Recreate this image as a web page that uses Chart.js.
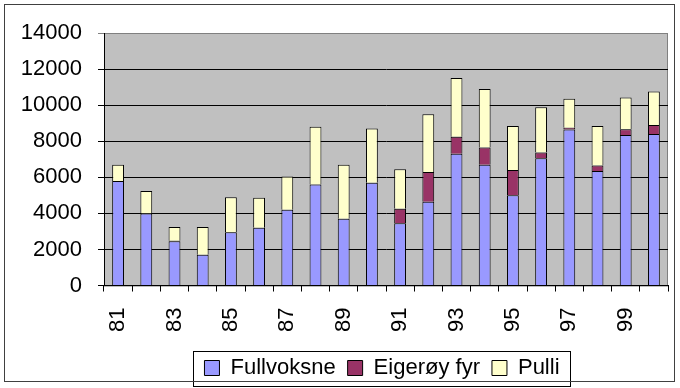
<!DOCTYPE html>
<html lang="no">
<head>
  <meta charset="UTF-8">
  <title>Fullvoksne, Eigerøy fyr, Pulli</title>
  <script src="https://cdn.jsdelivr.net/npm/chart.js"></script>
  <style>
    html, body { margin: 0; padding: 0; background: #fff; }
    canvas { display: block; }
  </style>
</head>
<body>
  <canvas id="chart" width="680" height="388"></canvas>

  <script>
    // data
    const years = ['81', '82', '83', '84', '85', '86', '87', '88', '89', '90',
                   '91', '92', '93', '94', '95', '96', '97', '98', '99', '00'];
    const fullvoksne = [5800, 4000, 2450, 1700, 2950, 3200, 4200, 5600, 3700, 5700,
                        3450, 4650, 7300, 6700, 5000, 7050, 8650, 6350, 8350, 8400];
    const eigeroy = [0, 0, 30, 0, 0, 0, 0, 0, 0, 0,
                     800, 1650, 950, 950, 1400, 330, 100, 300, 320, 500];
    const pulli = [900, 1240, 760, 1540, 1950, 1670, 1850, 3200, 3000, 3000,
                   2200, 3200, 3250, 3250, 2450, 2500, 1600, 2200, 1750, 1850];
    const yTicks = [0, 2000, 4000, 6000, 8000, 10000, 12000, 14000];

    const font = { family: 'Arial, "Liberation Sans", sans-serif', size: 22 };

    // gray plot area + frame around the whole picture + box round the legend
    const frame = {
      id: 'frame',
      beforeDraw(chart) {
        const { ctx, chartArea: a } = chart;
        ctx.save();
        ctx.fillStyle = '#c0c0c0';
        ctx.fillRect(a.left, a.top, a.right - a.left, a.bottom - a.top);
        ctx.strokeStyle = '#808080';
        ctx.lineWidth = 1;
        ctx.strokeRect(a.left + 0.5, a.top + 0.5, a.right - a.left - 1, a.bottom - a.top);
        ctx.restore();
      },
      afterLayout(chart) {
        const lg = chart.legend, a = chart.chartArea;
        lg.left = a.left - 4;
        lg.right = a.right - 4;
        lg.width = a.right - a.left;
        lg.top = 345;
        lg.bottom = lg.top + lg.height;
      },
      afterDraw(chart) {
        const ctx = chart.ctx;
        const boxes = chart.legend.legendHitBoxes;
        ctx.save();
        ctx.strokeStyle = '#000';
        ctx.lineWidth = 1;
        if (boxes && boxes.length) {
          const l = Math.min(...boxes.map(b => b.left));
          const r = Math.max(...boxes.map(b => b.left + b.width));
          const t = Math.min(...boxes.map(b => b.top));
          const b2 = Math.max(...boxes.map(b => b.top + b.height));
          const cy = (t + b2) / 2;
          ctx.strokeRect(Math.round(l - 11) + 0.5, Math.round(cy - 17) + 0.5, Math.round(r - l + 22), 35);
        }
        ctx.strokeStyle = '#404040';
        ctx.strokeRect(4.5, 4.5, 670, 377);
        ctx.restore();
      }
    };

    new Chart(document.getElementById('chart'), {
      type: 'bar',
      data: {
        labels: years,
        datasets: [
          { label: 'Fullvoksne', data: fullvoksne, backgroundColor: '#9999ff' },
          { label: 'Eigerøy fyr', data: eigeroy, backgroundColor: '#993366' },
          { label: 'Pulli', data: pulli, backgroundColor: '#ffffcc' }
        ].map(d => Object.assign(d, {
          borderColor: '#000', borderWidth: 1,
          barPercentage: 0.42, categoryPercentage: 1
        }))
      },
      options: {
        responsive: false,
        animation: false,
        layout: { padding: { left: 0, right: 12, top: 33, bottom: 0 } },
        plugins: {
          tooltip: { enabled: false },
          legend: {
            position: 'bottom',
            labels: { font: font, color: '#000', boxWidth: 15, boxHeight: 15, padding: 12 }
          }
        },
        scales: {
          x: {
            stacked: true,
            afterFit: s => { s.paddingLeft = 0; s.paddingRight = 0; s.height -= 4; },
            grid: { drawOnChartArea: false, drawTicks: true, tickLength: 6, color: '#000' },
            border: { color: '#000' },
            ticks: {
              font: font, color: '#000', autoSkip: false,
              minRotation: 90, maxRotation: 90, padding: 16,
              callback: (v, i) => (i % 2 === 0 ? years[i] : '')
            }
          },
          y: {
            stacked: true,
            min: 0, max: 14000,
            afterBuildTicks: s => { s.ticks = yTicks.map(v => ({ value: v })); },
            afterFit: s => { s.width = 104; },
            grid: {
              tickLength: 6,
              color: c => (c.tick && c.tick.value === 14000 ? '#808080' : '#000')
            },
            border: { color: '#000' },
            ticks: { font: font, color: '#000', padding: 16, callback: v => String(v) }
          }
        }
      },
      plugins: [frame]
    });
  </script>
</body>
</html>
